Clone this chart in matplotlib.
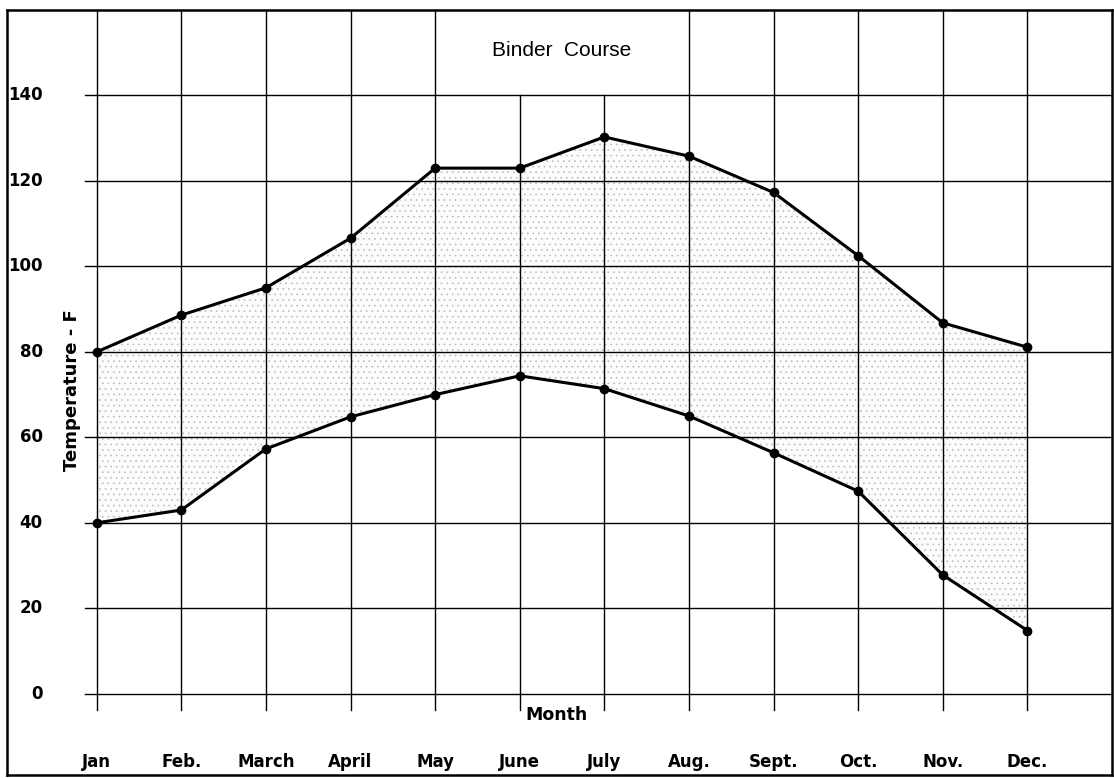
import matplotlib
matplotlib.use("Agg")
import matplotlib.pyplot as plt
import numpy as np

months = ["Jan.", "Feb.", "March", "April", "May", "June", "July", "Aug.", "Sept.", "Oct.", "Nov.", "Dec."]
upper = [80, 88.6, 95, 106.6, 123, 123, 130.3, 125.8, 117.3, 102.5, 86.8, 81.1]
lower = [40, 43, 57.3, 64.8, 70, 74.4, 71.4, 65, 56.4, 47.4, 27.8, 14.8]
yticks = [0, 20, 40, 60, 80, 100, 120, 140]
title = "Binder  Course"
xlabel = "Month"
ylabel = "Temperature - F"

plt.rcParams['hatch.linewidth'] = 0.5
fig = plt.figure(figsize=(11.14, 7.78), dpi=100)
ax = fig.add_axes([7/1114, 3/778, 1105/1114, 765/778])
x = np.arange(len(months))
xmin, xmax = -1.06, 12.0
ymin, ymax = -19.0, 160.0
ax.set_xlim(xmin, xmax)
ax.set_ylim(ymin, ymax)
ax.set_xticks([]); ax.set_yticks([])
for s in ax.spines.values():
    s.set_linewidth(1.8)
    s.set_color('black')

# grid: vertical lines at months
for i in x:
    top = 140 if i in (5, 6) else ymax
    ax.plot([i, i], [-3.7, top], color='black', lw=1.0, zorder=1)
# horizontal lines
for v in yticks:
    ax.plot([-0.14, xmax], [v, v], color='black', lw=1.0, zorder=1)

# stipple fill
ax.fill_between(x, lower, upper, facecolor='#fcfcfc', edgecolor='#bdbdbd',
                hatch='...', linewidth=0, zorder=0.5)

ax.plot(x, upper, color='black', lw=2.2, marker='o', ms=6, zorder=3)
ax.plot(x, lower, color='black', lw=2.2, marker='o', ms=6, zorder=3)

# tick labels
for v in yticks:
    ax.text(-0.64, v, str(v), ha='right', va='center', fontsize=12, fontweight='bold')
for i, m in enumerate(months):
    ax.text(i, -16.0, m.replace("Jan.", "Jan"), ha='center', va='center', fontsize=12,
            fontweight='bold')

ax.text(5.43, -5.0, xlabel, ha='center', va='center', fontsize=12.5, fontweight='bold')
ax.text(-0.29, 71, ylabel, ha='center', va='center', rotation=90, fontsize=13, fontweight='bold')
ax.text(5.5, 150.5, title, ha='center', va='center', fontsize=15, family='Liberation Sans')

fig.savefig("out.png", dpi=100)
